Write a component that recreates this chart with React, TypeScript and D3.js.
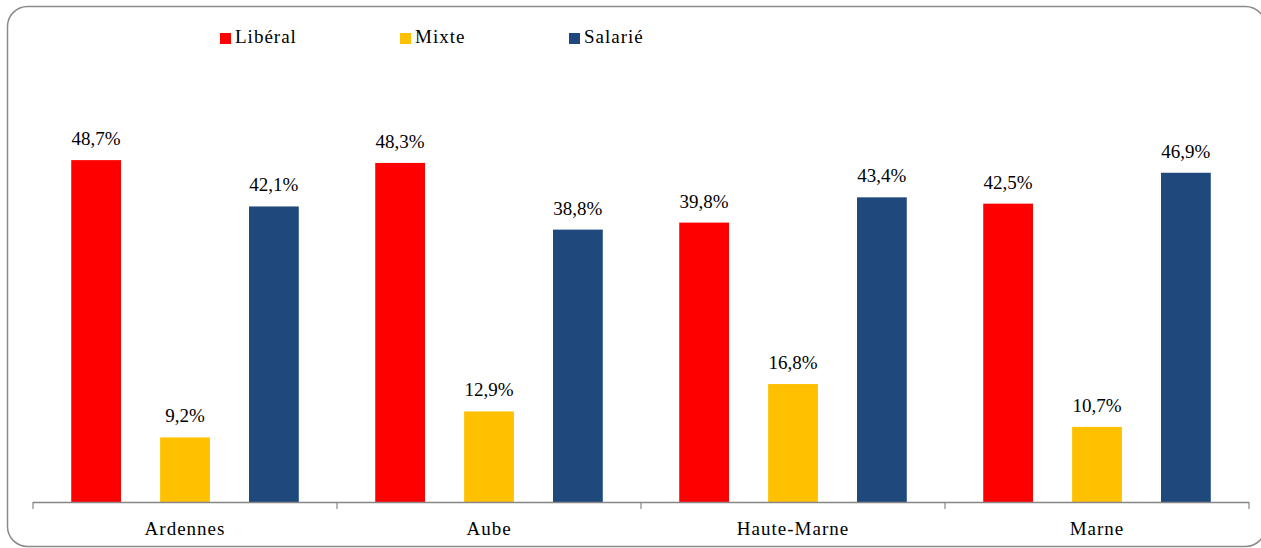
import React from "react";
import * as d3 from "d3";

const categories = ["Ardennes", "Aube", "Haute-Marne", "Marne"];
const seriesNames = ["Libéral", "Mixte", "Salarié"];
const liberal = [48.7, 48.3, 39.8, 42.5];
const mixte = [9.2, 12.9, 16.8, 10.7];
const salarie = [42.1, 38.8, 43.4, 46.9];
const colors = ["#FF0000", "#FFC000", "#1F497D"];

const W = 1261;
const H = 548;
const FONT = "Liberation Serif, DejaVu Serif, serif";

export default function App() {
  const series = [liberal, mixte, salarie];
  const x0 = d3.scaleBand<string>().domain(categories).range([33, 1249]).paddingInner(0).paddingOuter(0);
  const x1 = d3
    .scaleBand<string>()
    .domain(seriesNames)
    .range([0, x0.bandwidth()])
    .paddingInner(0.44)
    .paddingOuter(0.43);
  const y = d3.scaleLinear().domain([0, 60]).range([502, 502 - 7.02 * 60]);
  const fmt = (v: number) => v.toFixed(1).replace(".", ",") + "%";
  const legendX = [220, 400, 569];
  const txt = { fontFamily: FONT, fontSize: "19px", fill: "#000" } as React.CSSProperties;
  const wide = { ...txt, letterSpacing: "1px" } as React.CSSProperties;

  return (
    <svg width={W} height={H} style={{ position: "absolute", left: 0, top: 0, display: "block" }}>
      <rect x={0} y={0} width={W} height={H} fill="#fff" />
      <rect x={7.5} y={6.5} width={1258} height={540} rx={20} ry={20} fill="#fff" stroke="#8a8a8a" strokeWidth={1.5} />
      {seriesNames.map((s, i) => (
        <g key={s}>
          <rect x={legendX[i]} y={33} width={11} height={11} fill={colors[i]} />
          <text x={legendX[i] + 15} y={43} style={wide}>
            {s}
          </text>
        </g>
      ))}
      {categories.map((c, ci) => (
        <g key={c}>
          {seriesNames.map((s, si) => {
            const v = series[si][ci];
            const bx = (x0(c) as number) + (x1(s) as number);
            return (
              <g key={s}>
                <rect x={bx} y={y(v)} width={x1.bandwidth()} height={502 - y(v)} fill={colors[si]} />
                <text x={bx + x1.bandwidth() / 2} y={y(v) - 15} textAnchor="middle" style={txt}>
                  {fmt(v)}
                </text>
              </g>
            );
          })}
          <text x={(x0(c) as number) + x0.bandwidth() / 2} y={535} textAnchor="middle" style={wide}>
            {c}
          </text>
        </g>
      ))}
      <line x1={33} x2={1249} y1={502.5} y2={502.5} stroke="#868686" strokeWidth={1.5} />
      {[...categories.map((c) => x0(c) as number), 1249].map((t, i) => (
        <line key={i} x1={t} x2={t} y1={502} y2={509} stroke="#868686" strokeWidth={1.2} />
      ))}
    </svg>
  );
}
